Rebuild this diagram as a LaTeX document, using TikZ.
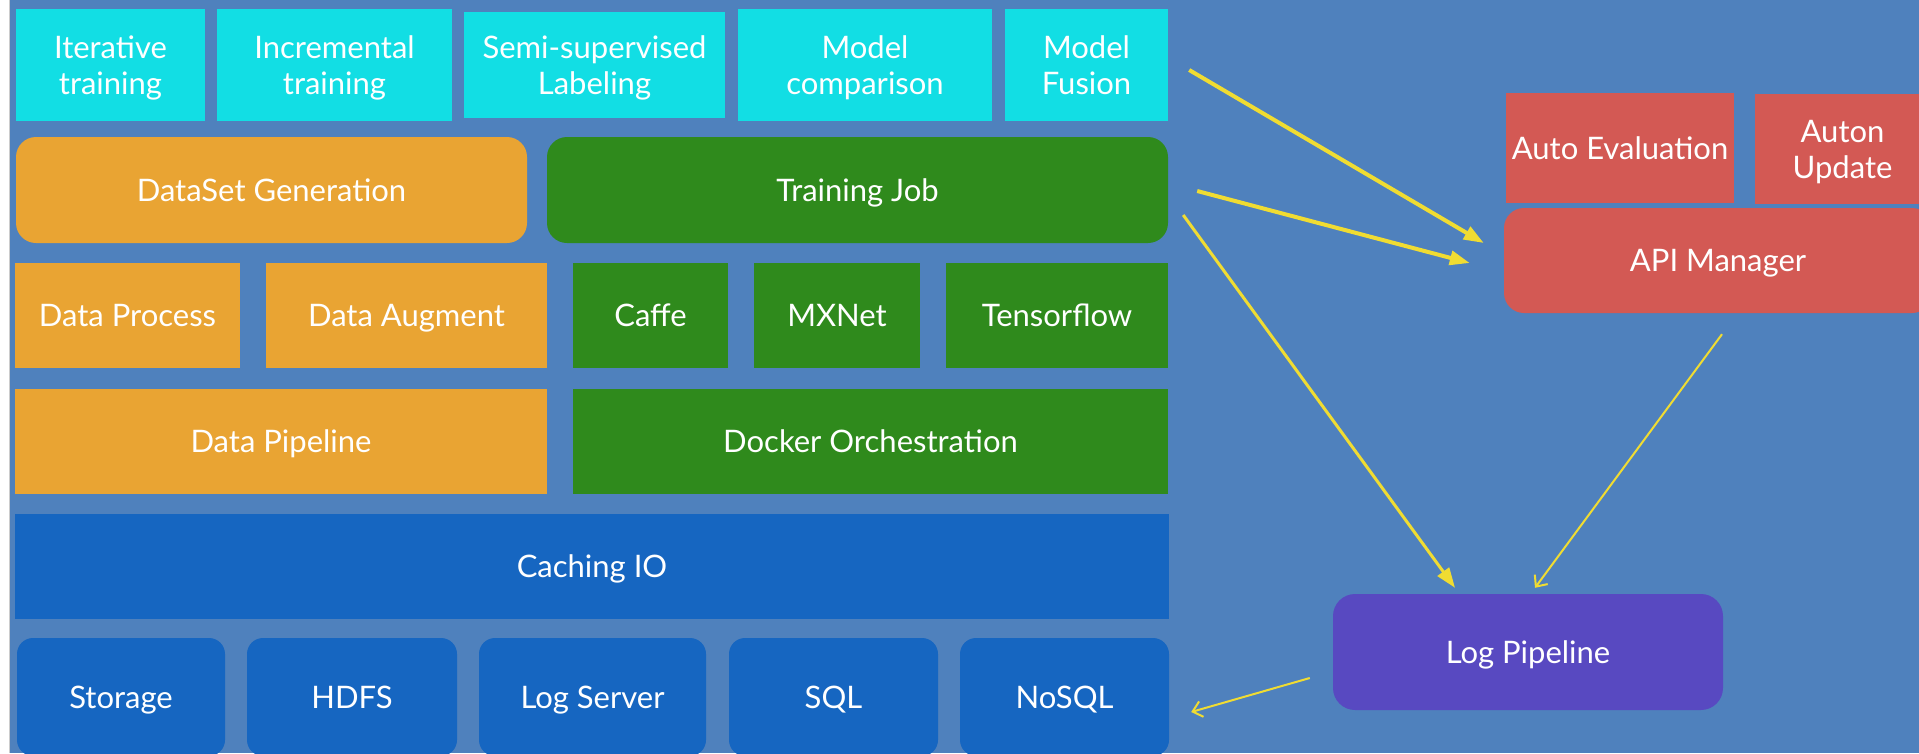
\documentclass[tikz,border=0pt]{standalone}
\usepackage{fontspec}
\setmainfont{Lato}
\usetikzlibrary{arrows.meta}

\definecolor{bgblue}{HTML}{4F81BD}
\definecolor{mlcyan}{HTML}{12DEE4}
\definecolor{dataorange}{HTML}{E9A433}
\definecolor{jobgreen}{HTML}{2F8A1C}
\definecolor{iodarkblue}{HTML}{1666C1}
\definecolor{apired}{HTML}{D35954}
\definecolor{logpurple}{HTML}{5849C1}
\definecolor{flowyellow}{HTML}{F0DC32}

\begin{document}
\begin{tikzpicture}[x=1pt,y=1pt]
  \tikzstyle{every node}+=[inner sep=0pt, text=white, align=center, font=\fontsize{31}{36}\selectfont,
    text depth=0pt, execute at begin node={\vphantom{A}}]
  \tikzstyle{cyanbox}=[fill=mlcyan]
  \tikzstyle{orangebox}=[fill=dataorange]
  \tikzstyle{greenbox}=[fill=jobgreen]
  \tikzstyle{iobox}=[fill=iodarkblue]
  \tikzstyle{redbox}=[fill=apired]
  \tikzstyle{flow}=[flowyellow, line width=4pt, -{Triangle[length=20pt,width=14pt]}]
  \tikzstyle{thinflow}=[flowyellow, line width=2pt, -{Straight Barb[length=9pt,width=16pt]}]
  \useasboundingbox (0,0) rectangle (1919,-753);
  \clip (0,0) rectangle (1919,-753);
  \fill [bgblue] (0,0) rectangle (1919,-753);
  \fill [white] (0,0) rectangle (10,-753);
  \draw [black!20, line width=1pt] (9,0) -- (9,-753);
  % top row
  \draw (110.5,-65) node (iter) [cyanbox, minimum width=189pt, minimum height=112pt] {Iterative\\training};
  \draw (334.5,-65) node (incr) [cyanbox, minimum width=235pt, minimum height=112pt] {Incremental\\training};
  \draw (594.5,-65) node (semi) [cyanbox, minimum width=261pt, minimum height=106pt] {Semi-supervised\\Labeling};
  \draw (865,-65) node (comp) [cyanbox, minimum width=254pt, minimum height=112pt] {Model\\comparison};
  \draw (1086.5,-65) node (fusion) [cyanbox, minimum width=163pt, minimum height=112pt] {Model\\Fusion};
  % jobs and data
  \draw (271.5,-190) node (dsgen) [orangebox, rounded corners=20pt, minimum width=511pt, minimum height=106pt] {DataSet Generation};
  \draw (857.5,-190) node (tjob) [greenbox, rounded corners=20pt, minimum width=621pt, minimum height=106pt] {Training Job};
  \draw (127.5,-315.5) node (dproc) [orangebox, minimum width=225pt, minimum height=105pt] {Data Process};
  \draw (406.5,-315.5) node (daug) [orangebox, minimum width=281pt, minimum height=105pt] {Data Augment};
  \draw (650.5,-315.5) node (caffe) [greenbox, minimum width=155pt, minimum height=105pt] {Caffe};
  \draw (837,-315.5) node (mxnet) [greenbox, minimum width=166pt, minimum height=105pt] {MXNet};
  \draw (1057,-315.5) node (tflow) [greenbox, minimum width=222pt, minimum height=105pt] {Tensorflow};
  \draw (281,-441.5) node (dpipe) [orangebox, minimum width=532pt, minimum height=105pt] {Data Pipeline};
  \draw (870.5,-441.5) node (docker) [greenbox, minimum width=595pt, minimum height=105pt] {Docker Orchestration};
  % storage
  \draw (592,-566.5) node (cache) [iobox, minimum width=1154pt, minimum height=105pt] {Caching IO};
  \draw (121,-697) node (storage) [iobox, rounded corners=16pt, minimum width=208pt, minimum height=118pt] {Storage};
  \draw (352,-697) node (hdfs) [iobox, rounded corners=16pt, minimum width=210pt, minimum height=118pt] {HDFS};
  \draw (592.5,-697) node (logsrv) [iobox, rounded corners=16pt, minimum width=227pt, minimum height=118pt] {Log Server};
  \draw (833.5,-697) node (sql) [iobox, rounded corners=16pt, minimum width=209pt, minimum height=118pt] {SQL};
  \draw (1064.5,-697) node (nosql) [iobox, rounded corners=16pt, minimum width=209pt, minimum height=118pt] {NoSQL};
  % right side
  \draw (1620,-148) node (autoeval) [redbox, minimum width=228pt, minimum height=110pt] {Auto Evaluation};
  \draw (1842.5,-149) node (autoupd) [redbox, minimum width=175pt, minimum height=110pt] {Auton\\Update};
  \draw (1718,-260.5) node (api) [redbox, rounded corners=20pt, minimum width=428pt, minimum height=105pt] {API Manager};
  \draw (1528,-652) node (logp) [fill=logpurple, rounded corners=22pt, minimum width=390pt, minimum height=116pt] {Log Pipeline};
  % arrows
  \draw [flow] ([shift={(21,-5)}]fusion.east) -- ([shift={(-20,17.5)}]api.west);
  \draw [flow] ([shift={(29,-1)}]tjob.east) -- ([shift={(-34,-2.5)}]api.west);
  \draw [flow, line width=3pt] ([shift={(15,-25)}]tjob.east) -- ([shift={(-73,6)}]logp.north);
  \draw [thinflow] ([shift={(4,-21)}]api.south) -- ([shift={(7,6)}]logp.north);
  \draw [thinflow] ([shift={(-23,-26)}]logp.west) -- ([shift={(22,-15)}]nosql.east);
\end{tikzpicture}
\end{document}
